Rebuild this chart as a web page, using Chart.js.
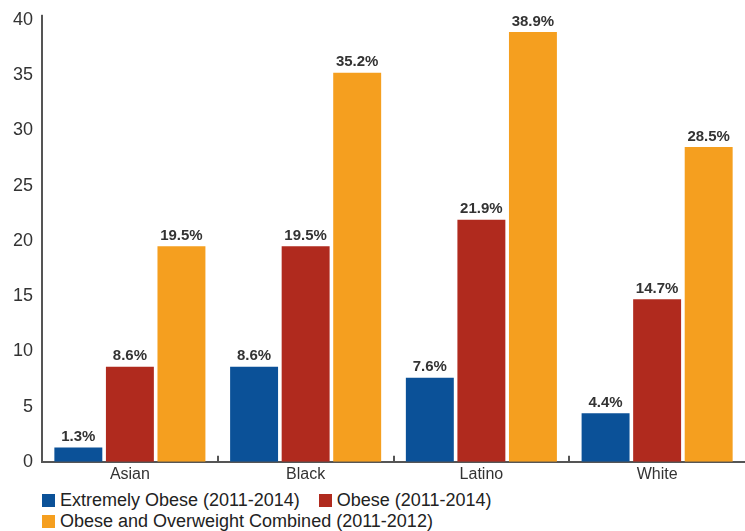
<!DOCTYPE html>
<html>
<head>
<meta charset="utf-8">
<script src="https://cdn.jsdelivr.net/npm/chart.js@4/dist/chart.umd.min.js"></script>
<style>
  html, body { margin: 0; padding: 0; background: #fff; }
  #wrap { position: relative; width: 745px; height: 531px; }
  #c { position: absolute; left: 0; top: 0; }
  #legend { position: absolute; left: 42px; top: 490px; width: 700px;
            display: flex; flex-wrap: wrap; row-gap: 0; column-gap: 19px;
            font: 18px 'Liberation Sans', Arial, sans-serif; color: #222; }
  .item { display: flex; align-items: center; height: 21px; white-space: nowrap; }
  .sw { width: 13px; height: 13px; margin-right: 5px; }
</style>
</head>
<body>
<div id="wrap">
  <canvas id="c" width="745" height="489"></canvas>
  <div id="legend"></div>
</div>
<script>
/* Obesity by race: grouped bars, value labels on top. */

const categories = ['Asian', 'Black', 'Latino', 'White'];
const extremelyObese = [1.3, 8.6, 7.6, 4.4];
const obese = [8.6, 19.5, 21.9, 14.7];
const obeseOverweight = [19.5, 35.2, 38.9, 28.5];
const yTicks = [0, 5, 10, 15, 20, 25, 30, 35, 40];

const FONT = "'Liberation Sans', Arial, sans-serif";

// labels like "19.5%" over each bar
const barLabels = {
  id: 'barLabels',
  afterDatasetsDraw(chart) {
    const ctx = chart.ctx;
    ctx.save();
    ctx.font = 'bold 15px ' + FONT;
    ctx.fillStyle = '#333';
    ctx.textAlign = 'center';
    ctx.textBaseline = 'bottom';
    chart.data.datasets.forEach((ds, i) => {
      chart.getDatasetMeta(i).data.forEach((bar, j) => {
        ctx.fillText(ds.data[j].toFixed(1) + '%', bar.x, bar.y - 3);
      });
    });
    ctx.restore();
  }
};

// little upward ticks between categories + y axis poking above the top
const axisBits = {
  id: 'axisBits',
  afterDraw(chart) {
    const x = chart.scales.x, y = chart.scales.y, ctx = chart.ctx;
    const n = categories.length, w = (x.right - x.left) / n;
    ctx.save();
    ctx.strokeStyle = '#555';
    ctx.lineWidth = 2;
    for (let i = 1; i < n; i++) {
      const px = Math.round(x.left + i * w);
      ctx.beginPath();
      ctx.moveTo(px, x.top);
      ctx.lineTo(px, x.top - 6);
      ctx.stroke();
    }
    ctx.beginPath();
    ctx.moveTo(y.right, y.top);
    ctx.lineTo(y.right, y.top - 5);
    ctx.stroke();
    ctx.restore();
  }
};

const chart = new Chart(document.getElementById('c'), {
  type: 'bar',
  data: {
    labels: categories,
    datasets: [
      { label: 'Extremely Obese (2011-2014)', data: extremelyObese, backgroundColor: '#0b5198' },
      { label: 'Obese (2011-2014)', data: obese, backgroundColor: '#b02a1e' },
      { label: 'Obese and Overweight Combined (2011-2012)', data: obeseOverweight, backgroundColor: '#f59f1f' }
    ]
  },
  options: {
    responsive: false,
    animation: false,
    datasets: { bar: { categoryPercentage: 0.88, barPercentage: 0.93 } },
    layout: { padding: { top: 10, right: 0, left: 4, bottom: 2 } },
    plugins: { legend: { display: false }, tooltip: { enabled: false } },
    scales: {
      x: {
        grid: { display: false, drawTicks: false },
        border: { display: true, color: '#555', width: 2 },
        ticks: { color: '#333', padding: 3, font: { family: FONT, size: 16 } }
      },
      y: {
        min: 0, max: 40,
        afterBuildTicks: s => { s.ticks = yTicks.map(v => ({ value: v })); },
        grid: { display: false, drawTicks: false },
        border: { display: true, color: '#555', width: 2 },
        ticks: { color: '#333', padding: 9, font: { family: FONT, size: 18 } }
      }
    }
  },
  plugins: [barLabels, axisBits]
});

// html legend, built from the chart's datasets
const legend = document.getElementById('legend');
chart.data.datasets.forEach(ds => {
  const item = document.createElement('div');
  item.className = 'item';
  const sw = document.createElement('span');
  sw.className = 'sw';
  sw.style.background = ds.backgroundColor;
  const txt = document.createElement('span');
  txt.textContent = ds.label;
  item.appendChild(sw);
  item.appendChild(txt);
  legend.appendChild(item);
});
</script>
</body>
</html>
